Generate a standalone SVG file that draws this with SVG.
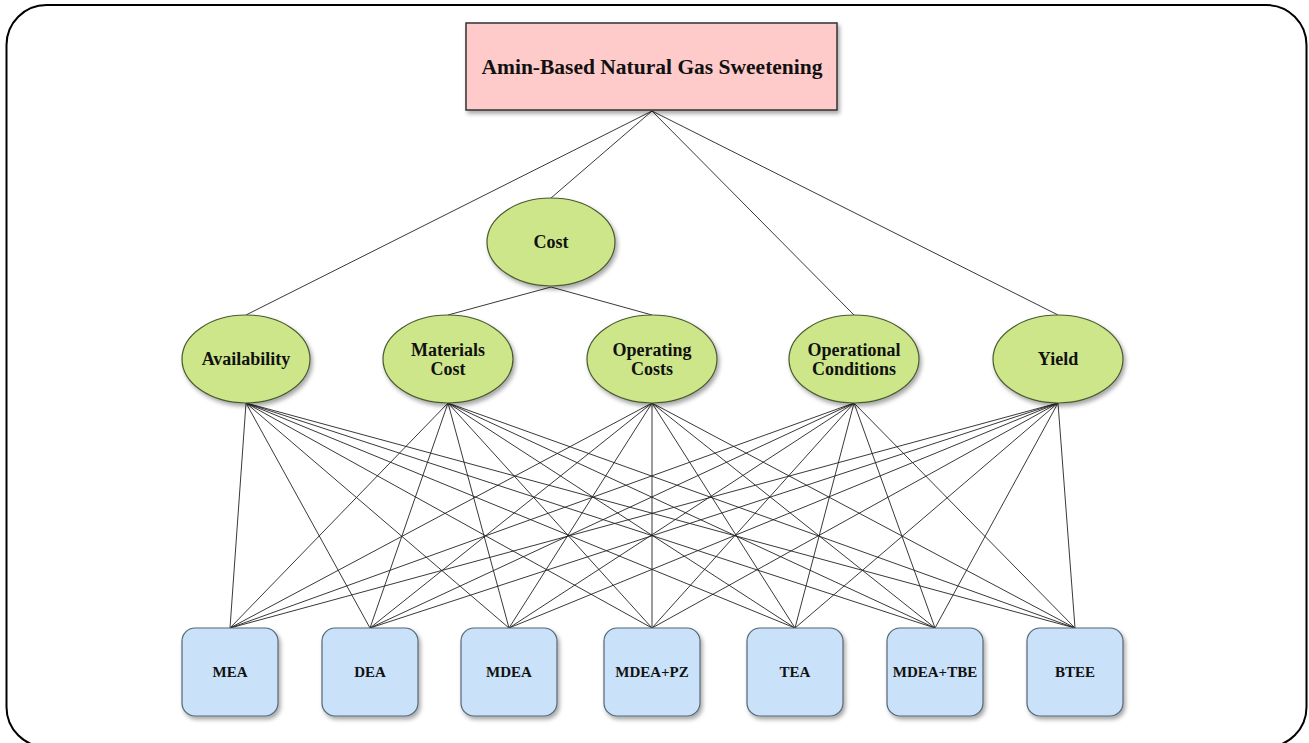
<svg xmlns="http://www.w3.org/2000/svg" width="1309" height="743" viewBox="0 0 1309 743">
<defs>
<filter id="sh" x="-20%" y="-20%" width="140%" height="140%">
<feDropShadow dx="2" dy="3" stdDeviation="2" flood-color="#000" flood-opacity="0.35"/>
</filter>
</defs>
<style>
.frame{fill:#fff;stroke:#000;stroke-width:2}
.goal{fill:#ffcaca;stroke:#333;stroke-width:1.5;filter:url(#sh)}
.crit{fill:#cde68a;stroke:#4a5a30;stroke-width:1.2;filter:url(#sh)}
.alt{fill:#c9e2f9;stroke:#556677;stroke-width:1.2;filter:url(#sh)}
.t{font-family:"Liberation Serif","Times New Roman",serif;font-weight:bold;fill:#111;text-anchor:middle;dominant-baseline:central}
.tg{font-size:21.5px}
.tc{font-size:18px}
.ta{font-size:15px}
#connectors line{stroke:#222;stroke-width:0.9}
</style>
<rect class="frame" x="6.5" y="5" width="1300" height="742" rx="40"/>
<g id="connectors">
<line x1="652" y1="111" x2="246" y2="315"/>
<line x1="652" y1="111" x2="551" y2="198"/>
<line x1="652" y1="111" x2="854" y2="315"/>
<line x1="652" y1="111" x2="1058" y2="315"/>
<line x1="551" y1="287" x2="448" y2="315"/>
<line x1="551" y1="287" x2="652" y2="315"/>
<line x1="246" y1="403" x2="230" y2="628"/><line x1="246" y1="403" x2="370" y2="628"/><line x1="246" y1="403" x2="509" y2="628"/><line x1="246" y1="403" x2="652" y2="628"/><line x1="246" y1="403" x2="795" y2="628"/><line x1="246" y1="403" x2="935" y2="628"/><line x1="246" y1="403" x2="1075" y2="628"/>
<line x1="448" y1="403" x2="230" y2="628"/><line x1="448" y1="403" x2="370" y2="628"/><line x1="448" y1="403" x2="509" y2="628"/><line x1="448" y1="403" x2="652" y2="628"/><line x1="448" y1="403" x2="795" y2="628"/><line x1="448" y1="403" x2="935" y2="628"/><line x1="448" y1="403" x2="1075" y2="628"/>
<line x1="652" y1="403" x2="230" y2="628"/><line x1="652" y1="403" x2="370" y2="628"/><line x1="652" y1="403" x2="509" y2="628"/><line x1="652" y1="403" x2="652" y2="628"/><line x1="652" y1="403" x2="795" y2="628"/><line x1="652" y1="403" x2="935" y2="628"/><line x1="652" y1="403" x2="1075" y2="628"/>
<line x1="854" y1="403" x2="230" y2="628"/><line x1="854" y1="403" x2="370" y2="628"/><line x1="854" y1="403" x2="509" y2="628"/><line x1="854" y1="403" x2="652" y2="628"/><line x1="854" y1="403" x2="795" y2="628"/><line x1="854" y1="403" x2="935" y2="628"/><line x1="854" y1="403" x2="1075" y2="628"/>
<line x1="1058" y1="403" x2="230" y2="628"/><line x1="1058" y1="403" x2="370" y2="628"/><line x1="1058" y1="403" x2="509" y2="628"/><line x1="1058" y1="403" x2="652" y2="628"/><line x1="1058" y1="403" x2="795" y2="628"/><line x1="1058" y1="403" x2="935" y2="628"/><line x1="1058" y1="403" x2="1075" y2="628"/>
</g>
<g id="goal">
<rect class="goal" x="466" y="23" width="371" height="87"/>
<text class="t tg" x="652" y="67">Amin-Based Natural Gas Sweetening</text>
</g>
<g id="cost">
<ellipse class="crit" cx="551" cy="242" rx="64" ry="44"/>
<text class="t tc" x="551" y="242">Cost</text>
</g>
<g id="availability">
<ellipse class="crit" cx="246" cy="359" rx="64" ry="44"/>
<text class="t tc" x="246" y="359">Availability</text>
</g>
<g id="materials-cost">
<ellipse class="crit" cx="448" cy="359" rx="65" ry="44"/>
<text class="t tc" x="448" y="350">Materials</text>
<text class="t tc" x="448" y="369">Cost</text>
</g>
<g id="operating-costs">
<ellipse class="crit" cx="652" cy="359" rx="65" ry="44"/>
<text class="t tc" x="652" y="350">Operating</text>
<text class="t tc" x="652" y="369">Costs</text>
</g>
<g id="operational-conditions">
<ellipse class="crit" cx="854" cy="359" rx="65" ry="44"/>
<text class="t tc" x="854" y="350">Operational</text>
<text class="t tc" x="854" y="369">Conditions</text>
</g>
<g id="yield">
<ellipse class="crit" cx="1058" cy="359" rx="65" ry="44"/>
<text class="t tc" x="1058" y="359">Yield</text>
</g>
<g id="mea"><rect class="alt" x="182" y="628" width="96" height="88" rx="13"/><text class="t ta" x="230" y="672">MEA</text></g>
<g id="dea"><rect class="alt" x="322" y="628" width="96" height="88" rx="13"/><text class="t ta" x="370" y="672">DEA</text></g>
<g id="mdea"><rect class="alt" x="461" y="628" width="96" height="88" rx="13"/><text class="t ta" x="509" y="672">MDEA</text></g>
<g id="mdea-pz"><rect class="alt" x="604" y="628" width="96" height="88" rx="13"/><text class="t ta" x="652" y="672">MDEA+PZ</text></g>
<g id="tea"><rect class="alt" x="747" y="628" width="96" height="88" rx="13"/><text class="t ta" x="795" y="672">TEA</text></g>
<g id="mdea-tbe"><rect class="alt" x="887" y="628" width="96" height="88" rx="13"/><text class="t ta" x="935" y="672">MDEA+TBE</text></g>
<g id="btee"><rect class="alt" x="1027" y="628" width="96" height="88" rx="13"/><text class="t ta" x="1075" y="672">BTEE</text></g>
</svg>
